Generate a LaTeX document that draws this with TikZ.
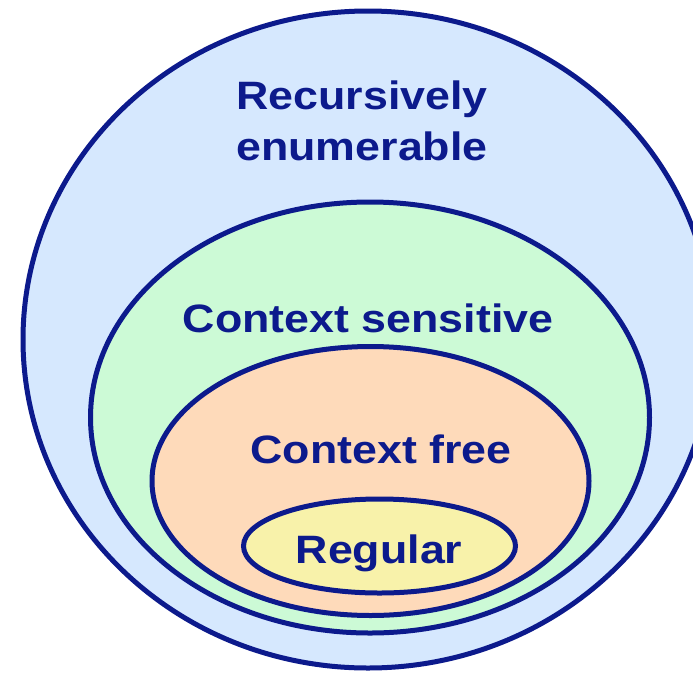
\documentclass[tikz,border=0pt]{standalone}
\usepackage{fontspec}
\newfontfamily\labelfont[FakeStretch=1.13]{Liberation Sans Bold}
\definecolor{navy}{RGB}{12,26,140}
\definecolor{refill}{RGB}{214,232,254}
\definecolor{csfill}{RGB}{204,250,214}
\definecolor{cffill}{RGB}{254,218,186}
\definecolor{regfill}{RGB}{248,242,170}
\tikzset{
  setline/.style={draw=navy, line width=5pt},
  setlabel/.style={text=navy, font=\labelfont\fontsize{39.6}{47}\selectfont, anchor=base, inner sep=0pt}
}
\begin{document}
\begin{tikzpicture}[x=1pt, y=-1pt]
  \useasboundingbox (0,0) rectangle (693,675);
  \clip (0,0) rectangle (693,675);
  % nested language classes, outermost first
  \draw[setline, fill=refill]  (368,339.5) ellipse [x radius=345, y radius=328.5];
  \draw[setline, fill=csfill]  (370,417.5) ellipse [x radius=279.5, y radius=215.5];
  \draw[setline, fill=cffill]  (370.5,481) ellipse [x radius=218.5, y radius=134.5];
  \draw[setline, fill=regfill] (379.5,546) ellipse [x radius=136, y radius=47];
  % class names
  \node[setlabel] (re1) at (362,109) {Recursively};
  \node[setlabel] (re2) at (362,160) {enumerable};
  \node[setlabel] (cs)  at (368,332) {Context sensitive};
  \node[setlabel] (cf)  at (381,463) {Context free};
  \node[setlabel] (reg) at (379,563) {Regular};
\end{tikzpicture}
\end{document}
